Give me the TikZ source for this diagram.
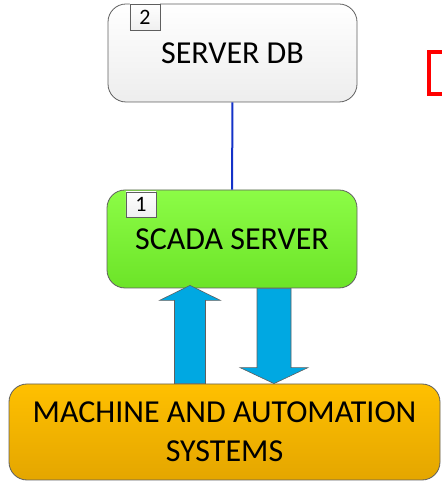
\documentclass[tikz,border=0pt]{standalone}
\usepackage{fontspec}
\setmainfont{Carlito}
\usetikzlibrary{calc, positioning}
\definecolor{BordeGris}{RGB}{95,95,95}
\definecolor{VerdeClaro}{RGB}{140,252,70}
\definecolor{VerdeOscuro}{RGB}{108,228,40}
\definecolor{NaranjaClaro}{RGB}{255,192,0}
\definecolor{NaranjaOscuro}{RGB}{228,166,0}
\definecolor{AzulFlecha}{RGB}{0,168,226}
\definecolor{AzulLinea}{RGB}{20,50,200}

\begin{document}
\begin{tikzpicture}[x=1pt, y=1pt,
	caja/.style={rectangle, rounded corners=18pt, draw=BordeGris, line width=0.8pt,
		align=center, inner sep=0pt, font=\fontsize{32}{39}\selectfont},
	num/.style={rectangle, draw=BordeGris, line width=0.7pt, top color=white,
		bottom color=gray!12, minimum width=30pt, minimum height=26pt,
		inner sep=0pt, font=\fontsize{22}{22}\selectfont},
	fl/.style={fill=AzulFlecha, draw=BordeGris, line width=0.6pt}]

	\useasboundingbox (0,0) rectangle (441,481);

	\node[caja, top color=white, bottom color=gray!14,
		minimum width=249pt, minimum height=98pt] (db) at (232.5,428) {SERVER DB};
	\node[caja, top color=VerdeClaro, bottom color=VerdeOscuro,
		minimum width=250pt, minimum height=98pt] (scada) at (232,242) {SCADA SERVER};
	\node[caja, top color=NaranjaClaro, bottom color=NaranjaOscuro,
		minimum width=431pt, minimum height=96pt] (sist) at (224.5,49)
		{MACHINE AND AUTOMATION\\ SYSTEMS};

	\node[num, anchor=north west] (n2) at ([xshift=22pt]db.north west) {2};
	\node[num, anchor=north west, minimum height=25pt]
		(n1) at ([xshift=19pt, yshift=-2pt]scada.north west) {1};

	\node[draw=red, line width=4pt, minimum width=44pt, minimum height=42pt,
		anchor=west] (marco) at (427,408) {};

	\draw[AzulLinea, line width=2pt] (db) -- (scada);

	% flechas gordas entre el servidor y las maquinas
	\coordinate (subeIni) at ([xshift=-34.5pt]sist.north);
	\coordinate (subeFin) at ([xshift=-42pt, yshift=3pt]scada.south);
	\coordinate (bajaIni) at ([xshift=42pt]scada.south);
	\coordinate (bajaFin) at ([xshift=49.5pt]sist.north);

	\filldraw[fl] ($(subeIni)+(-15.5,0)$) -- ($(subeFin)+(-15.5,-15)$)
		-- ($(subeFin)+(-30.5,-15)$) -- (subeFin) -- ($(subeFin)+(30.5,-15)$)
		-- ($(subeFin)+(15.5,-15)$) -- ($(subeIni)+(15.5,0)$) -- cycle;
	\filldraw[fl] ($(bajaIni)+(-17,0)$) -- ($(bajaFin)+(-17,16)$)
		-- ($(bajaFin)+(-34,16)$) -- (bajaFin) -- ($(bajaFin)+(34,16)$)
		-- ($(bajaFin)+(17,16)$) -- ($(bajaIni)+(17,0)$) -- cycle;
\end{tikzpicture}
\end{document}
